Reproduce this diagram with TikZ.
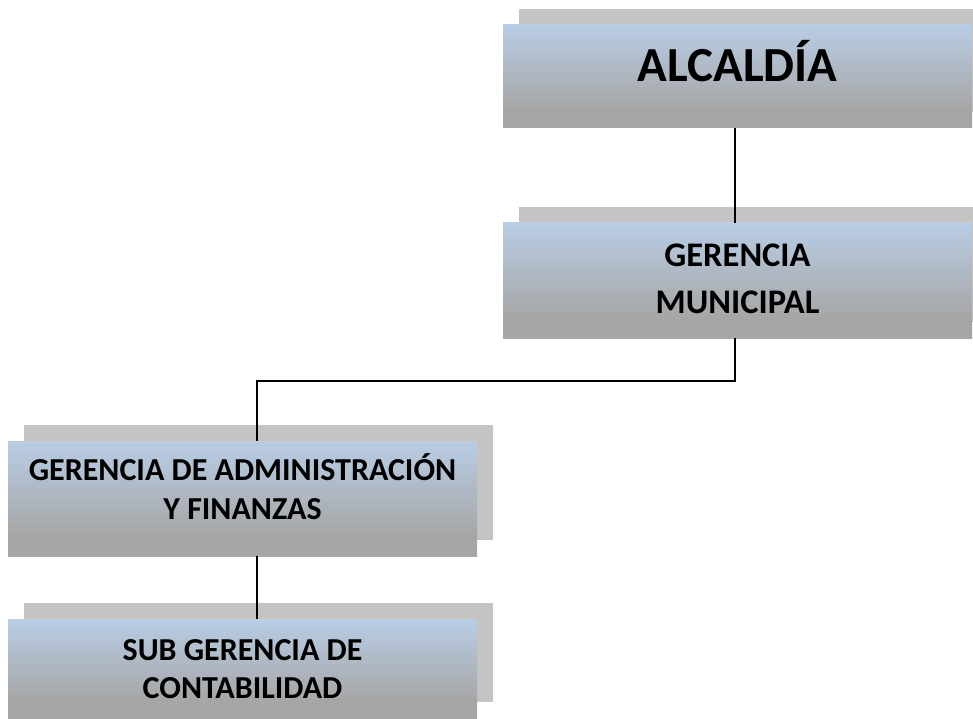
\documentclass[tikz,border=0pt]{standalone}
\usepackage{fontspec}
\setmainfont{Carlito}
\usetikzlibrary{shadows,calc}
\definecolor{gtop}{HTML}{B9CDE5}
\definecolor{gbot}{HTML}{A6A6A6}
\definecolor{shadowgray}{HTML}{C4C4C4}
\pgfdeclareverticalshading{boxgrad}{100bp}{color(0bp)=(gbot); color(25bp)=(gbot); color(34bp)=(gbot); color(75bp)=(gtop); color(100bp)=(gtop)}
\tikzset{
  orgbox/.style={rectangle, shading=boxgrad, draw=none, minimum width=469pt,
    inner sep=0pt,
    drop shadow={shadow xshift=16pt, shadow yshift=16pt, fill=shadowgray, opacity=1}},
  lbl/.style={anchor=base, inner sep=0pt, text=black, font=\bfseries\fontsize{#1}{#1}\selectfont},
  conn/.style={draw=black, line width=1.4pt}
}
\begin{document}
\begin{tikzpicture}[x=1pt,y=-1pt]
\useasboundingbox (0,0) rectangle (973,719);
% boxes
\node[orgbox, minimum height=103pt] (alc) at (737.5,76.5) {};
\node[orgbox, minimum height=115pt] (gm) at (737.5,280.5) {};
\node[orgbox, minimum height=115pt] (gaf) at (242.5,498.5) {};
\node[orgbox, minimum height=99pt] (sgc) at (242.5,668.5) {};
% labels
\node[lbl=49] (alct) at (alc.center |- 0,81.5) {ALCALD\'IA};
\node[lbl=34.5] (gmt1) at (gm.center |- 0,266.7) {GERENCIA};
\node[lbl=34.5] (gmt2) at (gm.center |- 0,313.3) {MUNICIPAL};
\node[lbl=32] (gaft1) at (gaf.center |- 0,480) {GERENCIA DE ADMINISTRACI\'ON};
\node[lbl=32] (gaft2) at (gaf.center |- 0,519.3) {Y FINANZAS};
\node[lbl=32] (sgct1) at (sgc.center |- 0,660) {SUB GERENCIA DE};
\node[lbl=32] (sgct2) at (sgc.center |- 0,698.3) {CONTABILIDAD};
\coordinate (bend) at (257,381);
% connectors
\draw[conn] ([xshift=-2.5pt]alc.south) -- ([xshift=-2.5pt]gm.north);
\draw[conn] ([xshift=-2.5pt]gm.south) |- (bend) -- (bend |- gaf.north);
\draw[conn] (bend |- gaf.south) -- (bend |- sgc.north);
\end{tikzpicture}
\end{document}
